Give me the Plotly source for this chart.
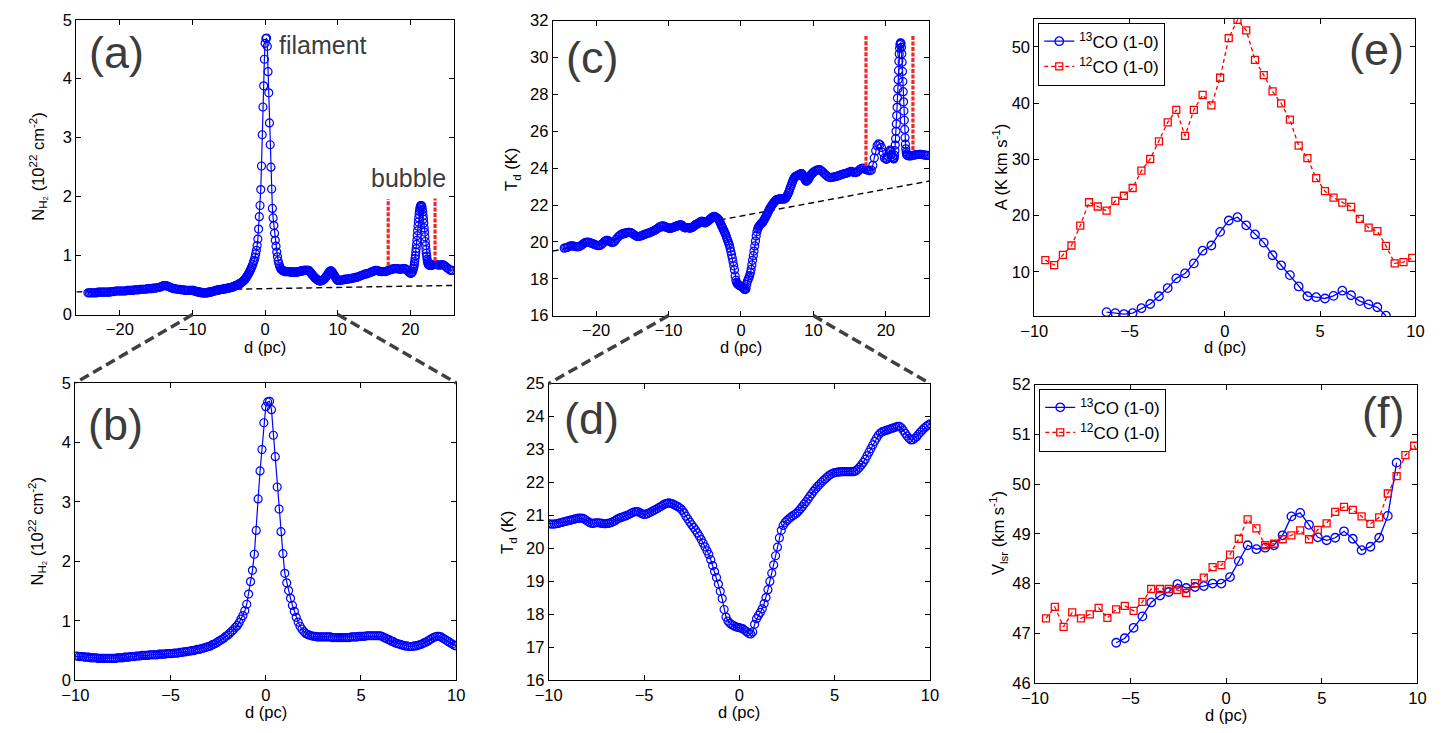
import plotly.graph_objects as go

W, H = 1455, 733
FONT = "Liberation Sans, Arial, sans-serif"

# ---------------------------------------------------------------- data
# Column density profile N(H2) (1e22 cm^-2) across the filament.
# Each block: first offset d (pc), sampling step (pc), values.
NH2_A_START, NH2_A_STEP = -24.4, 0.2
NH2_A = [.37, .37, .37, .37, .37, .37, .37, .38, .38, .38,
         .38, .38, .38, .38, .38, .38, .39, .39, .39, .40,
         .40, .40, .40, .40, .40, .40, .40, .41, .41, .41,
         .41, .41, .42, .42, .42, .42, .43, .43, .43, .43,
         .43, .44, .44, .44, .44, .45, .45, .45, .46, .46,
         .47, .48, .49, .49, .49, .48, .47, .46, .45, .44,
         .44, .43, .43, .43, .42, .42, .42, .41, .41, .41,
         .41, .41]
NH2_B_START, NH2_B_STEP = -10.0, 0.1
NH2_B = [.41, .41, .40, .40, .40, .39, .39, .39, .38, .38,
         .38, .38, .37, .37, .37, .37, .37, .37, .37, .37,
         .37, .37, .38, .38, .38, .38, .39, .39, .39, .40,
         .40, .40, .41, .41, .41, .42, .42, .42, .42, .43,
         .43, .43, .43, .43, .44, .44, .44, .44, .45, .45,
         .45, .45, .46, .46, .46, .47, .47, .48, .48, .49,
         .49, .50, .50, .51, .52, .52, .53, .54, .55, .56,
         .57, .58, .60, .61, .63, .65, .67, .69, .71, .74,
         .76, .79, .82, .85, .89, .92, .97, 1.03, 1.09, 1.17,
         1.28, 1.45, 1.66, 1.85, 2.12, 2.52, 3.05, 3.52, 3.88, 4.33,
         4.60, 4.68, 4.69, 4.55, 4.12, 3.76, 3.25, 2.88, 2.50, 2.13,
         1.80, 1.64, 1.51, 1.38, 1.26, 1.16, 1.06, .98, .91, .86,
         .82, .79, .77, .76, .75, .74, .74, .73, .73, .73,
         .73, .73, .73, .73, .73, .72, .72, .72, .72, .72,
         .72, .72, .72, .72, .72, .73, .73, .73, .73, .74,
         .74, .74, .74, .75, .75, .75, .75, .75, .75, .75,
         .75, .74, .72, .71, .69, .68, .66, .65, .63, .62,
         .61, .60, .59, .58, .58, .57, .57, .57, .58, .58,
         .59, .60, .61, .63, .64, .66, .68, .70, .72, .73,
         .74, .74, .73, .71, .69, .67, .65, .63, .61, .59,
         .58]
NH2_C_START, NH2_C_STEP = 10.2, 0.2
NH2_C = [.58, .58, .59, .59, .60, .60, .60, .61, .61, .62,
         .62, .63, .63, .64, .65, .66, .67, .68, .69, .69,
         .70, .71, .72, .73, .74, .75, .75, .74, .73, .73,
         .73, .73, .73, .74, .75, .76, .77, .77, .78, .78,
         .78, .77, .77, .77, .78, .78, .77, .75, .72]
NH2_D_START, NH2_D_STEP = 20.0, 0.1
NH2_D = [.70, .70, .71, .73]
NH2_E_START, NH2_E_STEP = 20.4, 0.05
NH2_E = [.77, .79, .82, .86, .90, .95, 1.00, 1.06, 1.12, 1.19,
         1.26, 1.34, 1.42, 1.50, 1.57, 1.64, 1.70, 1.75, 1.79, 1.82,
         1.84, 1.85, 1.85, 1.84, 1.82, 1.78, 1.74, 1.68, 1.62, 1.55,
         1.47, 1.40, 1.32, 1.24, 1.17, 1.10, 1.04, .99, .94, .91,
         .88, .86, .85, .84, .84]
NH2_F_START, NH2_F_STEP = 22.7, 0.1
NH2_F = [.84, .84, .84, .84, .84, .85, .85, .85, .85]
NH2_G_START, NH2_G_STEP = 23.6, 0.2
NH2_G = [.85, .84, .84, .84, .85, .84, .82, .80, .78, .76, .75, .75]

# Dust temperature profile T_d (K)
TD_A_START, TD_A_STEP = -24.4, 0.2
TD_A = [19.66, 19.68, 19.70, 19.73, 19.77, 19.79, 19.78, 19.76, 19.74, 19.73,
        19.74, 19.77, 19.82, 19.88, 19.94, 19.98, 19.99, 19.98, 19.95, 19.92,
        19.89, 19.86, 19.83, 19.80, 19.79, 19.82, 19.88, 19.95, 20.03, 20.08,
        20.08, 20.04, 19.99, 19.96, 19.98, 20.05, 20.15, 20.25, 20.33, 20.39,
        20.43, 20.46, 20.48, 20.50, 20.51, 20.52, 20.50, 20.46, 20.40, 20.34,
        20.30, 20.29, 20.30, 20.32, 20.35, 20.39, 20.42, 20.45, 20.47, 20.50,
        20.53, 20.57, 20.61, 20.65, 20.70, 20.76, 20.82, 20.86, 20.87, 20.85,
        20.81, 20.77]
TD_B_START, TD_B_STEP = -10.0, 0.1
TD_B = [20.75, 20.74, 20.74, 20.74, 20.75, 20.76, 20.78, 20.79, 20.81, 20.82,
        20.84, 20.85, 20.87, 20.88, 20.90, 20.91, 20.92, 20.92, 20.91, 20.88,
        20.84, 20.80, 20.77, 20.76, 20.77, 20.78, 20.78, 20.77, 20.76, 20.75,
        20.75, 20.76, 20.77, 20.79, 20.82, 20.85, 20.89, 20.92, 20.94, 20.96,
        20.98, 21.00, 21.03, 21.06, 21.09, 21.11, 21.12, 21.11, 21.08, 21.05,
        21.03, 21.04, 21.06, 21.09, 21.12, 21.15, 21.18, 21.21, 21.25, 21.28,
        21.32, 21.35, 21.37, 21.38, 21.37, 21.35, 21.32, 21.29, 21.26, 21.22,
        21.16, 21.08, 20.98, 20.89, 20.80, 20.72, 20.64, 20.56, 20.47, 20.38,
        20.27, 20.16, 20.05, 19.93, 19.82, 19.66, 19.48, 19.30, 19.12, 18.92,
        18.70, 18.48, 18.15, 17.92, 17.80, 17.73, 17.69, 17.66, 17.63, 17.61,
        17.60, 17.58, 17.56, 17.51, 17.47, 17.42, 17.41, 17.47, 17.70, 17.87,
        17.97, 18.06, 18.17, 18.33, 18.51, 18.75, 19.00, 19.25, 19.50, 19.78,
        20.04, 20.32, 20.55, 20.70, 20.79, 20.85, 20.90, 20.95, 20.99, 21.03,
        21.07, 21.13, 21.20, 21.27, 21.35, 21.42, 21.50, 21.58, 21.66, 21.74,
        21.81, 21.88, 21.94, 22.00, 22.06, 22.11, 22.16, 22.21, 22.25, 22.28,
        22.30, 22.31, 22.32, 22.32, 22.33, 22.33, 22.33, 22.33, 22.33, 22.33,
        22.33, 22.35, 22.40, 22.46, 22.53, 22.61, 22.70, 22.81, 22.92, 23.03,
        23.14, 23.25, 23.35, 23.44, 23.50, 23.54, 23.56, 23.58, 23.60, 23.62,
        23.64, 23.66, 23.68, 23.70, 23.70, 23.66, 23.58, 23.49, 23.41, 23.34,
        23.29, 23.30, 23.34, 23.39, 23.46, 23.53, 23.59, 23.65, 23.70, 23.74,
        23.78]
TD_C_START, TD_C_STEP = 10.2, 0.2
TD_C = [23.83, 23.88, 23.91, 23.92, 23.89, 23.83, 23.75, 23.67, 23.60, 23.54,
        23.50, 23.49, 23.50, 23.52, 23.54, 23.56, 23.58, 23.61, 23.64, 23.67,
        23.69, 23.71, 23.73, 23.76, 23.80, 23.82, 23.80, 23.77, 23.76, 23.78,
        23.84, 23.92, 23.98, 24.00, 23.98, 23.93, 23.90, 23.88, 23.86, 23.90,
        24.15, 24.55, 24.95, 25.22, 25.32, 25.28, 25.12, 24.85, 24.55]
TD_D_START, TD_D_STEP = 20.0, 0.1
TD_D = [24.50, 24.48, 24.52, 24.62, 24.78, 24.92, 24.98, 24.90, 24.75, 24.62, 24.55]
TD_E_START, TD_E_STEP = 21.05, 0.05
TD_E = [24.52, 24.50, 24.55, 24.70, 24.95, 25.25, 25.60, 26.00, 26.40, 26.85,
        27.30, 27.80, 28.30, 28.80, 29.30, 29.80, 30.20, 30.50, 30.70,
        30.78, 30.80, 30.75, 30.55, 30.20, 29.75, 29.25, 28.70, 28.15, 27.60,
        27.10, 26.60, 26.10, 25.65, 25.30, 25.05, 24.88, 24.78, 24.73, 24.70]
TD_F_START, TD_F_STEP = 23.0, 0.2
TD_F = [24.68, 24.66, 24.66, 24.68, 24.70, 24.72, 24.73, 24.74, 24.75, 24.75,
        24.74, 24.72, 24.71, 24.70, 24.69]

# Background (dashed) lines: end points (d, value)
BG_NH2_D = [-26, 26]
BG_NH2 = [0.385, 0.495]
BG_TD_D = [-26, 26]
BG_TD = [19.5, 23.3]

# Bubble boundaries (red dotted lines)
EDGE_NH2_D = [16.95, 23.4]
EDGE_NH2_LOW = [0.83, 0.91]
EDGE_NH2_HIGH = [1.96, 1.97]
EDGE_TD_D = [17.26, 23.74]
EDGE_TD_LOW = [24.1, 24.98]
EDGE_TD_HIGH = [31.17, 31.2]

# CO cuts (positions in pc)
D_CO = [-9.42, -8.96, -8.50, -8.05, -7.59, -7.13, -6.67, -6.21, -5.75, -5.30,
        -4.84, -4.38, -3.92, -3.46, -3.00, -2.55, -2.09, -1.63, -1.17, -0.71,
        -0.25, 0.20, 0.66, 1.12, 1.58, 2.04, 2.50, 2.95, 3.41, 3.87,
        4.33, 4.79, 5.25, 5.70, 6.16, 6.62, 7.08, 7.54, 8.00, 8.45,
        8.91, 9.37, 9.83, 10.29]
# integrated intensity A (K km/s)
A_12CO = [12.08, 11.21, 13.0, 14.68, 18.21, 22.37, 21.62, 20.87, 22.6, 23.53,
          24.91, 27.98, 30.06, 33.18, 36.59, 38.79, 34.16, 38.79, 41.45, 39.60,
          44.51, 51.56, 54.80, 52.95, 47.69, 44.97, 42.08, 39.94, 37.05, 32.43,
          30.23, 26.65, 24.34, 23.18, 22.31, 21.56, 19.42, 17.86, 17.23, 14.62,
          11.50, 11.73, 12.49]
A_13CO_FIRST = 7
A_13CO = [2.83, 2.66, 2.49, 2.66, 3.53, 4.28, 5.66, 7.11, 8.84, 9.71,
          11.50, 13.76, 14.68, 17.11, 19.13, 19.71, 18.27, 16.65, 15.20, 12.95,
          11.16, 9.42, 7.40, 5.66, 5.49, 5.26, 5.72, 6.65, 5.84, 4.80,
          4.22, 3.70, 2.2]
# centroid velocity V_lsr (km/s)
V_12CO = [47.30, 47.53, 47.13, 47.42, 47.30, 47.38, 47.51, 47.31, 47.48, 47.55,
          47.45, 47.63, 47.89, 47.89, 47.89, 47.87, 47.81, 48.01, 48.12, 48.33,
          48.37, 48.58, 48.90, 49.29, 49.11, 48.77, 48.80, 48.89, 48.97, 49.07,
          48.89, 49.08, 49.21, 49.44, 49.54, 49.48, 49.35, 49.20, 49.33, 49.81,
          50.16, 50.58, 50.77, 50.40]
V_13CO_FIRST = 8
V_13CO = [46.81, 46.90, 47.11, 47.34, 47.62, 47.76, 47.83, 47.99, 47.91, 47.93,
          47.95, 48.00, 48.00, 48.13, 48.45, 48.77, 48.69, 48.72, 48.77, 48.97,
          49.35, 49.42, 49.18, 48.93, 48.87, 48.92, 49.05, 48.90, 48.67, 48.74,
          48.92, 49.36, 50.43]


def sample_positions(start, step, values):
    return [round(start + i * step, 3) for i in range(len(values))]


D_NH2, NH2 = [], []
for s, st, v in [(NH2_A_START, NH2_A_STEP, NH2_A), (NH2_B_START, NH2_B_STEP, NH2_B),
                 (NH2_C_START, NH2_C_STEP, NH2_C), (NH2_D_START, NH2_D_STEP, NH2_D),
                 (NH2_E_START, NH2_E_STEP, NH2_E), (NH2_F_START, NH2_F_STEP, NH2_F),
                 (NH2_G_START, NH2_G_STEP, NH2_G)]:
    D_NH2 += sample_positions(s, st, v)
    NH2 += v

D_TD, TD = [], []
for s, st, v in [(TD_A_START, TD_A_STEP, TD_A), (TD_B_START, TD_B_STEP, TD_B),
                 (TD_C_START, TD_C_STEP, TD_C), (TD_D_START, TD_D_STEP, TD_D),
                 (TD_E_START, TD_E_STEP, TD_E), (TD_F_START, TD_F_STEP, TD_F)]:
    D_TD += sample_positions(s, st, v)
    TD += v

# ---------------------------------------------------------------- layout geometry (pixels)
PANELS = {
    # name: (axis suffix, x px range, y px range (top, bottom), x range, y range, x ticks, y ticks)
    "a": ("", (63.3, 447.0), (11.0, 313.3), [-26, 26], [0, 5], [-20, -10, 0, 10, 20], [0, 1, 2, 3, 4, 5]),
    "b": ("2", (62.3, 449.3), (383.3, 688.3), [-10, 10], [0, 5], [-10, -5, 0, 5, 10], [0, 1, 2, 3, 4, 5]),
    "c": ("3", (547.3, 930.0), (12.0, 314.3), [-26, 26], [16, 32], [-20, -10, 0, 10, 20], list(range(16, 33, 2))),
    "d": ("4", (543.3, 930.7), (384.0, 688.3), [-10, 10], [16, 25], [-10, -5, 0, 5, 10], list(range(16, 26))),
    "e": ("5", (1036.7, 1424.0), (10.0, 315.0), [-10, 10], [2.1, 55], [-10, -5, 0, 5, 10], [10, 20, 30, 40, 50]),
    "f": ("6", (1037.3, 1426.0), (385.0, 691.0), [-10, 10], [46, 52], [-10, -5, 0, 5, 10], list(range(46, 53))),
}
# axis titles: text, and pixel centre of the rotated y title / of the x title
YTITLES = {
    "a": ("N<sub>H₂</sub> (10<sup>22</sup> cm<sup>-2</sup>)", 24, 162),
    "b": ("N<sub>H₂</sub> (10<sup>22</sup> cm<sup>-2</sup>)", 23, 536),
    "c": ("T<sub>d</sub> (K)", 506, 165),
    "d": ("T<sub>d</sub> (K)", 502, 537),
    "e": ("A (K km s<sup>-1</sup>)", 1002, 162),
    "f": ("V<sub>lsr</sub> (km s<sup>-1</sup>)", 1000, 537),
}
XTITLE_Y = {"a": 346, "b": 721, "c": 346, "d": 721, "e": 346, "f": 724}

BLUE = "rgb(0,0,255)"
RED = "rgb(255,0,0)"

fig = go.Figure()


def ref(p):
    suf = PANELS[p][0]
    return "x" + suf, "y" + suf


def profile_trace(p, x, y):
    xr, yr = ref(p)
    return go.Scatter(x=x, y=y, xaxis=xr, yaxis=yr, mode="lines+markers",
                      line=dict(color=BLUE, width=1.2),
                      marker=dict(symbol="circle-open", size=8, color=BLUE, line=dict(width=1.2)),
                      showlegend=False, hoverinfo="skip")


def dashed_bg(p, x, y):
    xr, yr = ref(p)
    return go.Scatter(x=x, y=y, xaxis=xr, yaxis=yr, mode="lines",
                      line=dict(color="black", width=1.4, dash="6px,4px"),
                      showlegend=False, hoverinfo="skip")


def red_edges(p, xs, lows, highs):
    xr, yr = ref(p)
    out = []
    for xv, lo, hi in zip(xs, lows, highs):
        out.append(go.Scatter(x=[xv, xv], y=[lo, hi], xaxis=xr, yaxis=yr, mode="lines",
                              line=dict(color="rgb(240,40,40)", width=3.2, dash="4px,1.5px"),
                              showlegend=False, hoverinfo="skip"))
    return out


# (a) and (b): column density
fig.add_trace(dashed_bg("a", BG_NH2_D, BG_NH2))
fig.add_trace(profile_trace("a", D_NH2, NH2))
for t in red_edges("a", EDGE_NH2_D, EDGE_NH2_LOW, EDGE_NH2_HIGH):
    fig.add_trace(t)
fig.add_trace(profile_trace("b", D_NH2, NH2))

# (c) and (d): dust temperature
fig.add_trace(dashed_bg("c", BG_TD_D, BG_TD))
fig.add_trace(profile_trace("c", D_TD, TD))
for t in red_edges("c", EDGE_TD_D, EDGE_TD_LOW, EDGE_TD_HIGH):
    fig.add_trace(t)
fig.add_trace(profile_trace("d", D_TD, TD))

# (e) and (f): CO
for p, legend, v13, first13, v12 in [("e", "legend", A_13CO, A_13CO_FIRST, A_12CO),
                                     ("f", "legend2", V_13CO, V_13CO_FIRST, V_12CO)]:
    xr, yr = ref(p)
    fig.add_trace(go.Scatter(x=D_CO[first13:first13 + len(v13)], y=v13, xaxis=xr, yaxis=yr,
                             mode="lines+markers", name="<sup>13</sup>CO (1-0)", legend=legend,
                             line=dict(color=BLUE, width=1.3),
                             marker=dict(symbol="circle-open", size=8.5, color=BLUE, line=dict(width=1.3))))
    fig.add_trace(go.Scatter(x=D_CO[:len(v12)], y=v12, xaxis=xr, yaxis=yr,
                             mode="lines+markers", name="<sup>12</sup>CO (1-0)", legend=legend,
                             line=dict(color=RED, width=1.3, dash="4px,3px"),
                             marker=dict(symbol="square-open", size=7, color=RED, line=dict(width=1.3))))

# axes
layout = dict(width=W, height=H, margin=dict(l=0, r=0, t=0, b=0),
              paper_bgcolor="white", plot_bgcolor="white",
              font=dict(family=FONT, size=16, color="black"))
for p, (suf, xpx, ypx, xr, yr, xt, yt) in PANELS.items():
    common = dict(showline=True, linecolor="black", linewidth=1, mirror="ticks",
                  ticks="inside", ticklen=5, tickcolor="black", tickwidth=1,
                  showgrid=False, zeroline=False, tickfont=dict(family=FONT, size=16.5, color="black"))
    layout["xaxis" + suf] = dict(common, domain=[xpx[0] / W, xpx[1] / W], range=xr,
                                 tickmode="array", tickvals=xt, anchor="y" + suf)
    layout["yaxis" + suf] = dict(common, domain=[1 - ypx[1] / H, 1 - ypx[0] / H], range=yr,
                                 tickmode="array", tickvals=yt, anchor="x" + suf)

legend_common = dict(xanchor="left", yanchor="top", bgcolor="white", bordercolor="black",
                     borderwidth=1, font=dict(family=FONT, size=17, color="black"),
                     itemwidth=30, tracegroupgap=0)
layout["legend"] = dict(legend_common, x=1040.7 / W, y=1 - 14 / H)
layout["legend2"] = dict(legend_common, x=1041.7 / W, y=1 - 389.3 / H)

# zoom connectors between (a)->(b) and (c)->(d)
shapes = []
for top, bot in [("a", "b"), ("c", "d")]:
    _, txp, typ, txr, _, _, _ = PANELS[top]
    _, bxp, byp, bxr, _, _, _ = PANELS[bot]
    for i, xv in enumerate(bxr):
        fx = txp[0] + (xv - txr[0]) / (txr[1] - txr[0]) * (txp[1] - txp[0])
        shapes.append(dict(type="line", xref="paper", yref="paper",
                           x0=fx / W, y0=1 - typ[1] / H, x1=bxp[i] / W, y1=1 - byp[0] / H,
                           line=dict(color="rgb(64,64,64)", width=3.5, dash="10px,5px"), layer="above"))
layout["shapes"] = shapes

GRAY = "rgb(60,60,60)"
LABELS = [("(a)", 104, 45), ("(b)", 103, 426), ("(c)", 587, 50),
          ("(d)", 587, 420), ("(e)", 1384, 42), ("(f)", 1391, 414)]
ann = []
for txt, x, y in LABELS:
    ann.append(dict(text=txt, x=x / W, y=1 - y / H, xref="paper", yref="paper",
                    showarrow=False, xanchor="center", yanchor="middle",
                    font=dict(family=FONT, size=45, color=GRAY)))
ann.append(dict(text="filament", x=314 / W, y=1 - 37 / H, xref="paper", yref="paper",
                showarrow=False, xanchor="center", yanchor="middle",
                font=dict(family=FONT, size=25, color=GRAY)))
ann.append(dict(text="bubble", x=401 / W, y=1 - 173 / H, xref="paper", yref="paper",
                showarrow=False, xanchor="center", yanchor="middle",
                font=dict(family=FONT, size=25, color=GRAY)))
# axis titles
for p, (suf, xpx, ypx, *_rest) in PANELS.items():
    txt, tx, ty = YTITLES[p]
    ann.append(dict(text=txt, x=tx / W, y=1 - ty / H, xref="paper", yref="paper",
                    showarrow=False, xanchor="center", yanchor="middle", textangle=-90,
                    font=dict(family=FONT, size=16.5, color="black")))
    ann.append(dict(text="d (pc)", x=(xpx[0] + xpx[1]) / 2 / W, y=1 - XTITLE_Y[p] / H,
                    xref="paper", yref="paper", showarrow=False,
                    xanchor="center", yanchor="middle", borderpad=0,
                    font=dict(family=FONT, size=16.5, color="black")))
layout["annotations"] = ann

fig.update_layout(**layout)
fig.write_html("out.html", config={"displayModeBar": False},
               post_script="document.body.style.margin='0px';")
